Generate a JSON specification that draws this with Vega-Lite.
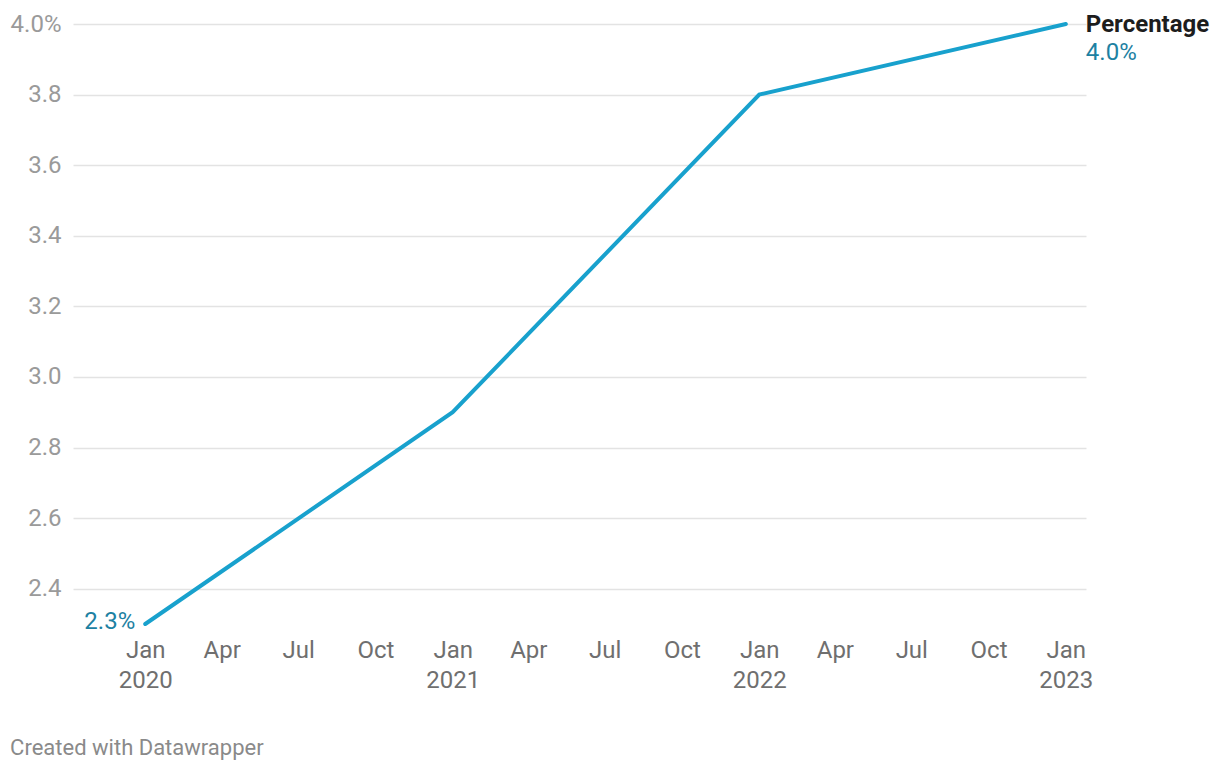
{
  "$schema": "https://vega.github.io/schema/vega-lite/v6.json",
  "width": 1013,
  "height": 600,
  "autosize": "none",
  "padding": {"left": 73, "top": 24, "right": 134, "bottom": 146},
  "background": "white",
  "config": {"font": "Roboto", "view": {"stroke": null}},
  "title": {
    "text": "Created with Datawrapper",
    "orient": "bottom",
    "anchor": "start",
    "frame": "bounds",
    "fontSize": 22,
    "fontWeight": "normal",
    "color": "#8a8a8a",
    "offset": 46
  },
  "data": {
    "values": [
      {"date": "2020-01-01", "value": 2.3, "pos": "first"},
      {"date": "2021-01-01", "value": 2.9, "pos": "mid"},
      {"date": "2022-01-01", "value": 3.8, "pos": "mid"},
      {"date": "2023-01-01", "value": 4.0, "pos": "last"}
    ]
  },
  "encoding": {
    "x": {
      "field": "date",
      "type": "temporal",
      "scale": {
        "type": "utc",
        "domain": [
          {"year": 2019, "month": 10, "date": 7, "utc": true},
          {"year": 2023, "month": 1, "date": 25, "utc": true}
        ]
      },
      "axis": {
        "title": null,
        "grid": false,
        "domain": false,
        "ticks": false,
        "labelPadding": 14,
        "labelFontSize": 24,
        "labelColor": "#6f6f6f",
        "labelLineHeight": 30,
        "labelBaseline": "top",
        "labelFlush": false,
        "labelOverlap": false,
        "values": [
          {"year": 2020, "month": 1, "date": 1, "utc": true},
          {"year": 2020, "month": 4, "date": 1, "utc": true},
          {"year": 2020, "month": 7, "date": 1, "utc": true},
          {"year": 2020, "month": 10, "date": 1, "utc": true},
          {"year": 2021, "month": 1, "date": 1, "utc": true},
          {"year": 2021, "month": 4, "date": 1, "utc": true},
          {"year": 2021, "month": 7, "date": 1, "utc": true},
          {"year": 2021, "month": 10, "date": 1, "utc": true},
          {"year": 2022, "month": 1, "date": 1, "utc": true},
          {"year": 2022, "month": 4, "date": 1, "utc": true},
          {"year": 2022, "month": 7, "date": 1, "utc": true},
          {"year": 2022, "month": 10, "date": 1, "utc": true},
          {"year": 2023, "month": 1, "date": 1, "utc": true}
        ],
        "labelExpr": "utcFormat(datum.value, '%m') == '01' ? ['Jan', utcFormat(datum.value, '%Y')] : utcFormat(datum.value, '%b')"
      }
    },
    "y": {
      "field": "value",
      "type": "quantitative",
      "scale": {"domain": [2.3, 4.0], "nice": false, "zero": false},
      "axis": {
        "title": null,
        "domain": false,
        "ticks": false,
        "grid": true,
        "gridColor": "#e3e3e3",
        "gridWidth": 1.3,
        "labelPadding": 12,
        "labelFontSize": 24,
        "labelColor": "#9a9a9a",
        "values": [2.4, 2.6, 2.8, 3.0, 3.2, 3.4, 3.6, 3.8, 4.0],
        "labelExpr": "datum.value == 4 ? '4.0%' : format(datum.value, '.1f')"
      }
    }
  },
  "layer": [
    {
      "mark": {"type": "line", "color": "#18a1cd", "strokeWidth": 4, "strokeCap": "round"}
    },
    {
      "transform": [{"filter": "datum.pos == 'first'"}],
      "mark": {"type": "text", "align": "right", "baseline": "middle", "dx": -10, "dy": -2, "fontSize": 24, "color": "#1d81a2", "text": "2.3%"}
    },
    {
      "transform": [{"filter": "datum.pos == 'last'"}],
      "mark": {"type": "text", "align": "left", "baseline": "middle", "dx": 20, "dy": 1, "fontSize": 24, "fontWeight": "bold", "color": "#1d1d1d", "text": "Percentage"}
    },
    {
      "transform": [{"filter": "datum.pos == 'last'"}],
      "mark": {"type": "text", "align": "left", "baseline": "middle", "dx": 20, "dy": 29, "fontSize": 24, "color": "#1d81a2", "text": "4.0%"}
    }
  ]
}
